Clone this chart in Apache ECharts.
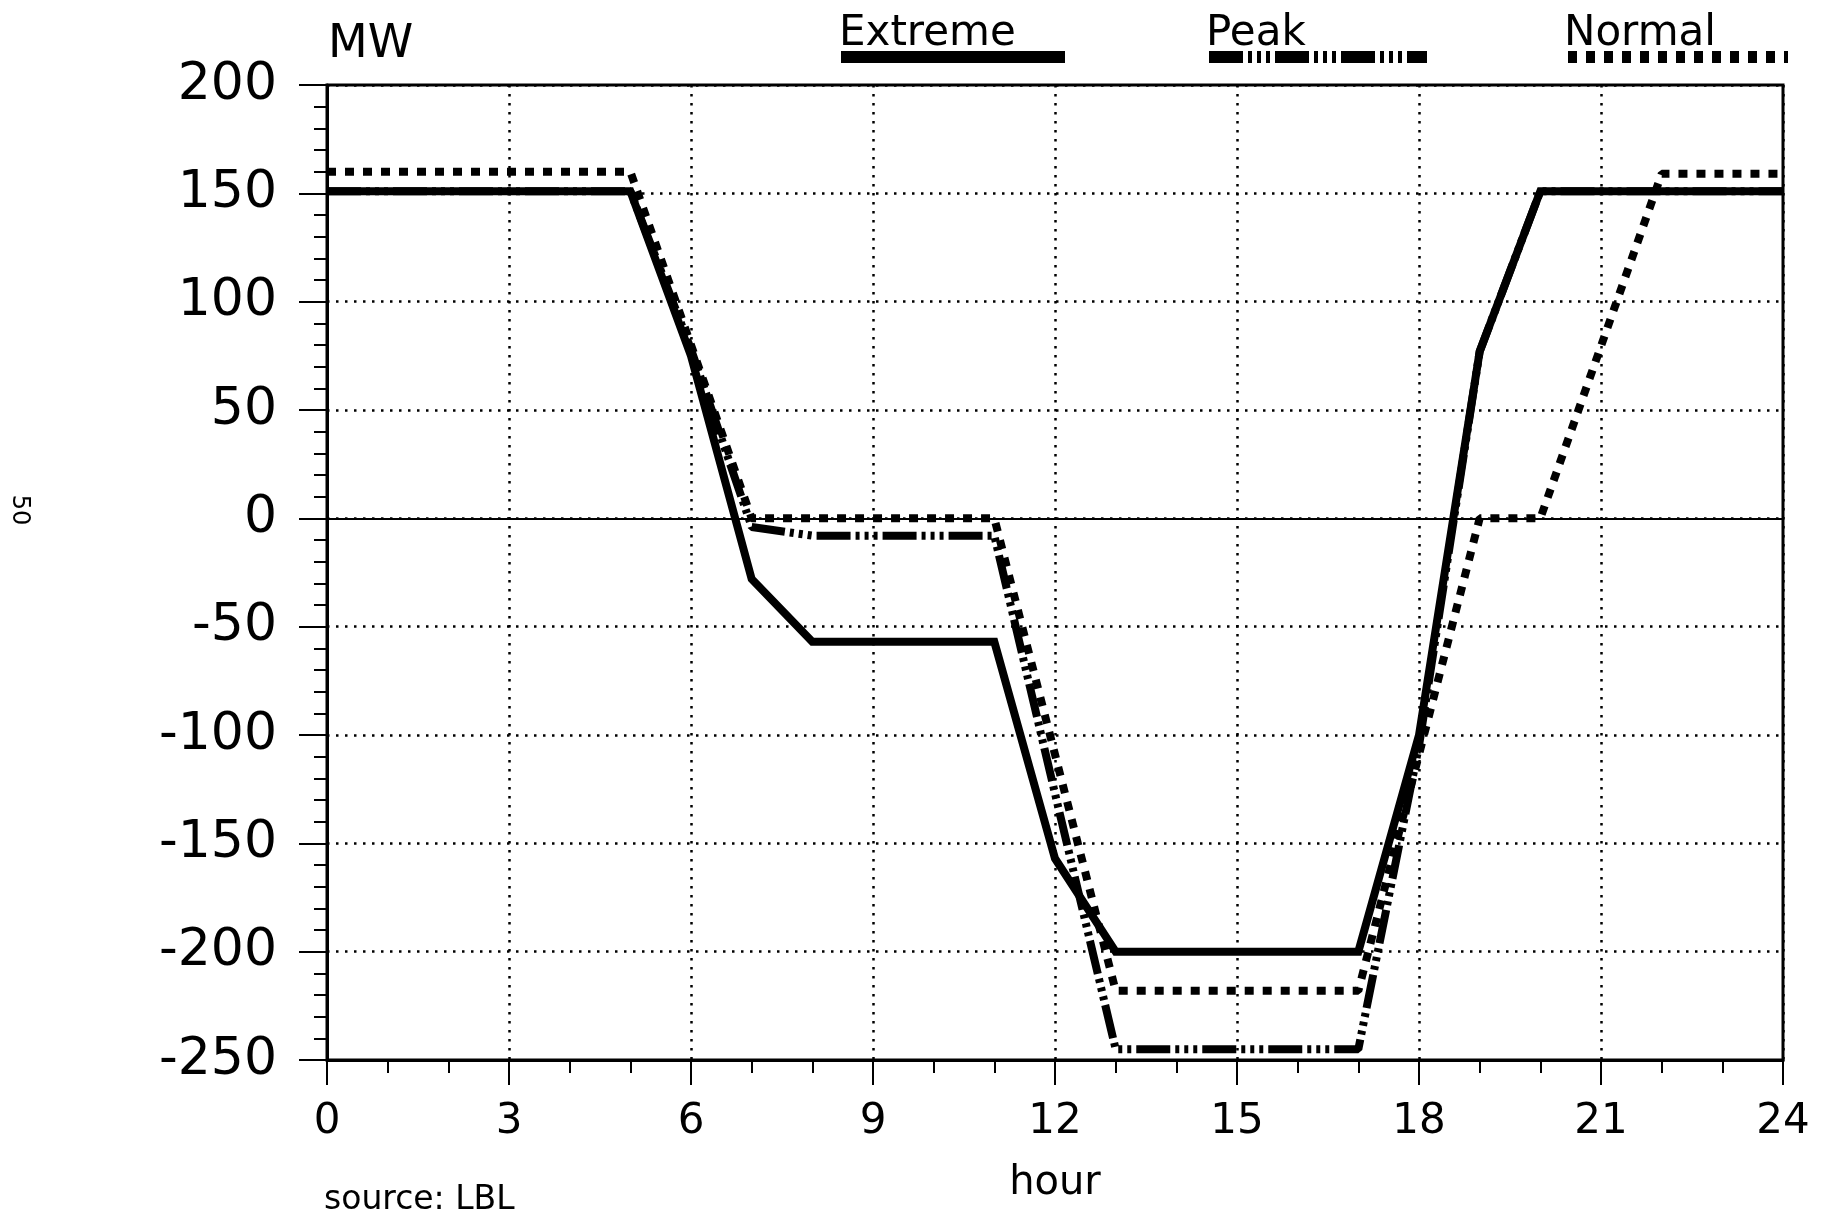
<!DOCTYPE html>
<html>
<head>
<meta charset="utf-8">
<title>MW by hour</title>
<script src="https://cdn.jsdelivr.net/npm/echarts@6/dist/echarts.min.js"></script>
<style>
    html, body { margin: 0; padding: 0; background: #ffffff; }
    #Chart { width: 1830px; height: 1214px; }
</style>
</head>
<body>
<div id="Chart"></div>
<script>
// 各条曲线的拐点(小时, MW)
var ExtremeHours = [0, 5, 6, 7, 8, 11, 12, 13, 17, 18, 19, 20, 24];
var ExtremeMW = [151, 151, 75, -28, -57, -57, -157, -200, -200, -100, 77, 151, 151];
var PeakHours = [0, 5, 6, 7, 8, 11, 12, 13, 17, 18, 19, 20, 24];
var PeakMW = [151, 151, 78, -4, -8, -8, -127, -245, -245, -105, 77, 151, 151];
var NormalHours = [0, 5, 7, 11, 13, 17, 19, 20, 22, 24];
var NormalMW = [160, 160, 0, 0, -218, -218, 0, 0, 159, 159];
// 坐标轴刻度
var HourTicks = [0, 3, 6, 9, 12, 15, 18, 21, 24];
var MWTicks = [-250, -200, -150, -100, -50, 0, 50, 100, 150, 200];

var ChartObject;
var FontName = 'DejaVu Sans';

// 把小时和数值拼成 [x, y]
function Pairs(hours, values) {
    var out = [];
    for (var i = 0; i < hours.length; i++) {
        out.push([hours[i], values[i]]);
    }
    return out;
}

// 单独的图例(只画线, 文字用 title 放在线上方)
function KeyLegend(name, left, width) {
    return {
        data: [name],
        left: left,
        top: 51,
        padding: 0,
        itemWidth: width,
        itemHeight: 12,
        itemStyle: { opacity: 0 },
        lineStyle: { width: 12 },
        formatter: function () { return ''; },
        selectedMode: false
    };
}

function Label(text, left, top, size) {
    return {
        text: text,
        left: left,
        top: top,
        padding: 0,
        textStyle: { fontFamily: FontName, fontSize: size, fontWeight: 'normal', color: '#000' }
    };
}

function DrawChart() {
    var dom = document.getElementById('Chart');
    if (ChartObject == null) {
        ChartObject = echarts.init(dom);
    }
    var dotted = { color: '#000', width: 2.5, type: [2.5, 6.5] };
    var option = {
        animation: false,
        backgroundColor: '#ffffff',
        title: [
            Label('MW', 328, 22, 46),
            Label('Extreme', 839, 13, 42),
            Label('Peak', 1206, 13, 42),
            Label('Normal', 1564, 13, 42),
            Label('source: LBL', 324, 1184, 33)
        ],
        legend: [
            KeyLegend('Extreme', 835, 224),
            KeyLegend('Peak', 1203, 218),
            KeyLegend('Normal', 1562, 220)
        ],
        grid: {
            left: 327,
            right: 47,
            top: 85,
            bottom: 154,
            show: true,
            borderColor: '#000',
            borderWidth: 3
        },
        xAxis: {
            type: 'value',
            min: HourTicks[0],
            max: HourTicks[HourTicks.length - 1],
            interval: 3,
            name: 'hour',
            nameLocation: 'middle',
            nameGap: 104,
            nameTextStyle: { fontFamily: FontName, fontSize: 40, color: '#000' },
            axisLine: { onZero: false, lineStyle: { color: '#000', width: 3 } },
            axisTick: { length: 25, lineStyle: { color: '#000', width: 2 } },
            minorTick: { show: true, splitNumber: 3, length: 13, lineStyle: { color: '#000', width: 2 } },
            axisLabel: { fontFamily: FontName, fontSize: 42, color: '#000', margin: 41 },
            splitLine: { show: true, lineStyle: dotted }
        },
        yAxis: {
            type: 'value',
            min: MWTicks[0],
            max: MWTicks[MWTicks.length - 1],
            interval: 50,
            axisLine: { lineStyle: { color: '#000', width: 3 } },
            axisTick: { length: 28, lineStyle: { color: '#000', width: 2 } },
            minorTick: { show: true, splitNumber: 5, length: 13, lineStyle: { color: '#000', width: 2 } },
            axisLabel: { fontFamily: FontName, fontSize: 52, color: '#000', margin: 50 },
            splitLine: { show: true, lineStyle: dotted }
        },
        graphic: [{
            // 页边上的页码
            type: 'text',
            x: 19,
            y: 510,
            rotation: -Math.PI / 2,
            style: { text: '50', fontFamily: FontName, fontSize: 24, fill: '#000', align: 'center', verticalAlign: 'middle' }
        }],
        series: [
            {
                type: 'line',
                name: 'Normal',
                data: Pairs(NormalHours, NormalMW),
                symbol: 'none',
                z: 3,
                lineStyle: { color: '#000', width: 8, type: [9, 9], cap: 'butt' }
            },
            {
                type: 'line',
                name: 'Peak',
                data: Pairs(PeakHours, PeakMW),
                symbol: 'none',
                z: 4,
                lineStyle: { color: '#000', width: 8, type: [34, 5, 4, 5, 4, 5, 4, 5], cap: 'butt' }
            },
            {
                type: 'line',
                name: 'Extreme',
                data: Pairs(ExtremeHours, ExtremeMW),
                symbol: 'none',
                z: 5,
                lineStyle: { color: '#000', width: 8, join: 'miter' },
                // 零值线
                markLine: {
                    silent: true,
                    symbol: ['none', 'none'],
                    label: { show: false },
                    lineStyle: { color: '#000', width: 2, type: 'solid' },
                    data: [{ yAxis: 0 }]
                }
            }
        ]
    };
    ChartObject.setOption(option);
}

DrawChart();
</script>
</body>
</html>
